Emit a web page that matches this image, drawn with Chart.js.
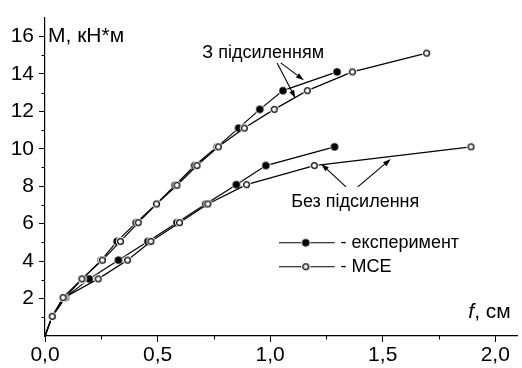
<!DOCTYPE html>
<html><head><meta charset="utf-8">
<script src="https://cdn.jsdelivr.net/npm/chart.js@4/dist/chart.umd.min.js"></script>
<style>html,body{margin:0;padding:0;background:#fff;}#wrap{width:522px;height:368px;position:relative;}</style>
</head><body><div id="wrap"><canvas id="c" width="522" height="368"></canvas></div>
<script>
// ---- data (f, cm ; M, kN*m) ----
const reinfExpF = [0, 0.032, 0.09, 0.165, 0.25, 0.32, 0.405, 0.495, 0.578, 0.665, 0.765, 0.86, 0.954, 1.057, 1.297];
const reinfExpM = [0, 1.05, 2.05, 3.05, 4.05, 5.05, 6.05, 7.05, 8.05, 9.1, 10.1, 11.1, 12.1, 13.1, 14.1];
const reinfMceF = [0, 0.032, 0.08, 0.164, 0.255, 0.335, 0.414, 0.495, 0.586, 0.675, 0.77, 0.885, 1.018, 1.165, 1.365, 1.695];
const reinfMceM = [0, 1.05, 2.05, 3.05, 4.05, 5.05, 6.05, 7.05, 8.05, 9.1, 10.1, 11.1, 12.1, 13.1, 14.1, 15.1];
const plainExpF = [0, 0.032, 0.09, 0.196, 0.326, 0.457, 0.586, 0.714, 0.85, 0.981, 1.286];
const plainExpM = [0, 1.05, 2.05, 3.05, 4.05, 5.05, 6.05, 7.05, 8.08, 9.1, 10.1];
const plainMceF = [0, 0.032, 0.085, 0.236, 0.366, 0.47, 0.597, 0.723, 0.895, 1.196, 1.892];
const plainMceM = [0, 1.05, 2.05, 3.05, 4.05, 5.05, 6.05, 7.05, 8.08, 9.1, 10.1];
const xTicks = [0, 0.5, 1.0, 1.5, 2.0];
const yTicks = [2, 4, 6, 8, 10, 12, 14, 16];
const xMinor = [0.25, 0.75, 1.25, 1.75];
const yMinor = [1, 3, 5, 7, 9, 11, 13, 15];
const yTitle = 'М, кН*м';
const xTitleItalic = 'f';
const xTitleRest = ', см';
const labelReinf = 'З підсиленням';
const labelPlain = 'Без підсилення';
const legendExp = '- експеримент';
const legendMce = '- МСЕ';

const FONT = '"Liberation Sans", Arial, sans-serif';

function makeMarker(filled, r, halo) {
  const s = Math.ceil((r + halo) * 2) + 2;
  const cv = document.createElement('canvas');
  cv.width = s; cv.height = s;
  const g = cv.getContext('2d');
  const c = s / 2;
  g.fillStyle = '#fff';
  g.beginPath(); g.arc(c, c, r + halo, 0, Math.PI * 2); g.fill();
  g.beginPath(); g.arc(c, c, r, 0, Math.PI * 2);
  g.fillStyle = filled ? '#000' : '#fff';
  g.fill();
  g.lineWidth = 1.3; g.strokeStyle = '#000'; g.stroke();
  return cv;
}
const mFilled = makeMarker(true, 3.1, 1.6);
const mOpen = makeMarker(false, 2.9, 1.6);

function pts(xs, ys) { return xs.map((x, i) => ({x: x, y: ys[i]})); }
function ds(xs, ys, marker) {
  return {
    data: pts(xs, ys),
    showLine: true,
    borderColor: '#000',
    backgroundColor: '#000',
    borderWidth: 1.2,
    tension: 0,
    pointStyle: marker,
    pointRadius: (ctx) => ctx.dataIndex === 0 ? 0 : 3,
    pointHoverRadius: 3,
    clip: false
  };
}

const fmt = v => v.toFixed(1).replace('.', ',');

function arrow(ctx, x1, y1, x2, y2) {
  const ang = Math.atan2(y2 - y1, x2 - x1);
  const L = 8, W = 2.6;
  const bx = x2 - L * Math.cos(ang), by = y2 - L * Math.sin(ang);
  ctx.beginPath(); ctx.moveTo(x1, y1); ctx.lineTo(bx, by); ctx.stroke();
  ctx.beginPath();
  ctx.moveTo(x2, y2);
  ctx.lineTo(bx + W * Math.sin(ang), by - W * Math.cos(ang));
  ctx.lineTo(bx - W * Math.sin(ang), by + W * Math.cos(ang));
  ctx.closePath(); ctx.fill();
}

const decor = {
  id: 'decor',
  afterDraw(chart) {
    const ctx = chart.ctx, xs = chart.scales.x, ys = chart.scales.y, a = chart.chartArea;
    const X = v => xs.getPixelForValue(v), Y = v => ys.getPixelForValue(v);
    ctx.save();
    ctx.strokeStyle = '#000'; ctx.fillStyle = '#000'; ctx.lineWidth = 1;
    // minor ticks
    xMinor.forEach(v => { const p = Math.round(X(v)) + 0.5; ctx.beginPath(); ctx.moveTo(p, a.bottom); ctx.lineTo(p, a.bottom + 3.5); ctx.stroke(); });
    yMinor.forEach(v => { const p = Math.round(Y(v)) + 0.5; ctx.beginPath(); ctx.moveTo(a.left - 3.5, p); ctx.lineTo(a.left, p); ctx.stroke(); });
    // axis titles
    ctx.textBaseline = 'middle';
    ctx.textAlign = 'left';
    ctx.font = '21px ' + FONT;
    ctx.fillText(yTitle, a.left + 3, Y(16));
    ctx.textAlign = 'right';
    ctx.font = '21px ' + FONT;
    const restW = ctx.measureText(xTitleRest).width;
    const rx = a.right - 7;
    ctx.fillText(xTitleRest, rx, Y(1.25));
    ctx.font = 'italic 21px ' + FONT;
    ctx.fillText(xTitleItalic, rx - restW, Y(1.25));
    // annotations
    ctx.lineWidth = 1.1;
    ctx.font = '18px ' + FONT;
    ctx.textAlign = 'center';
    ctx.fillText(labelReinf, X(0.969), Y(15.12));
    ctx.fillText(labelPlain, X(1.378), Y(7.17));
    arrow(ctx, X(1.031), Y(14.58), X(1.112), Y(12.70));
    arrow(ctx, X(1.047), Y(14.58), X(1.150), Y(13.66));
    arrow(ctx, X(1.337), Y(7.96), X(1.227), Y(9.19));
    arrow(ctx, X(1.389), Y(7.96), X(1.536), Y(9.45));
    // legend
    const lx1 = X(1.039), lx2 = X(1.287), lm = X(1.158), tx = X(1.313);
    [[4.98, mFilled, legendExp], [3.70, mOpen, legendMce]].forEach(([yv, mk, txt]) => {
      const py = Y(yv);
      ctx.beginPath(); ctx.moveTo(lx1, py); ctx.lineTo(lx2, py); ctx.stroke();
      ctx.drawImage(mk, lm - mk.width / 2, py - mk.height / 2);
      ctx.textAlign = 'left';
      ctx.font = '18px ' + FONT;
      ctx.fillText(txt, tx, py);
    });
    ctx.restore();
  }
};

new Chart(document.getElementById('c'), {
  type: 'scatter',
  data: {
    datasets: [
      ds(reinfMceF, reinfMceM, mOpen),
      ds(plainMceF, plainMceM, mOpen),
      ds(reinfExpF, reinfExpM, mFilled),
      ds(plainExpF, plainExpM, mFilled)
    ]
  },
  options: {
    responsive: false,
    animation: false,
    devicePixelRatio: 1,
    layout: { padding: { top: 13, right: 1, left: 0, bottom: 0 } },
    plugins: { legend: { display: false }, tooltip: { enabled: false } },
    scales: {
      x: {
        type: 'linear', min: 0, max: 2.1,
        afterBuildTicks: s => { s.ticks = xTicks.map(v => ({value: v})); },
        afterFit: s => { s.height = 32; },
        ticks: { callback: v => fmt(v), color: '#000', font: { family: FONT, size: 21 }, padding: 1, maxRotation: 0, autoSkip: false },
        grid: { drawOnChartArea: false, drawTicks: true, tickLength: 6, tickColor: '#000', tickWidth: 1 },
        border: { display: true, color: '#000', width: 1.2 }
      },
      y: {
        type: 'linear', min: 0, max: 17,
        afterBuildTicks: s => { s.ticks = yTicks.map(v => ({value: v})); },
        afterFit: s => { s.width = 45; },
        ticks: { callback: v => String(v), color: '#000', font: { family: FONT, size: 21 }, padding: 5, autoSkip: false },
        grid: { drawOnChartArea: false, drawTicks: true, tickLength: 6, tickColor: '#000', tickWidth: 1 },
        border: { display: true, color: '#000', width: 1.2 }
      }
    }
  },
  plugins: [decor]
});
</script></body></html>
